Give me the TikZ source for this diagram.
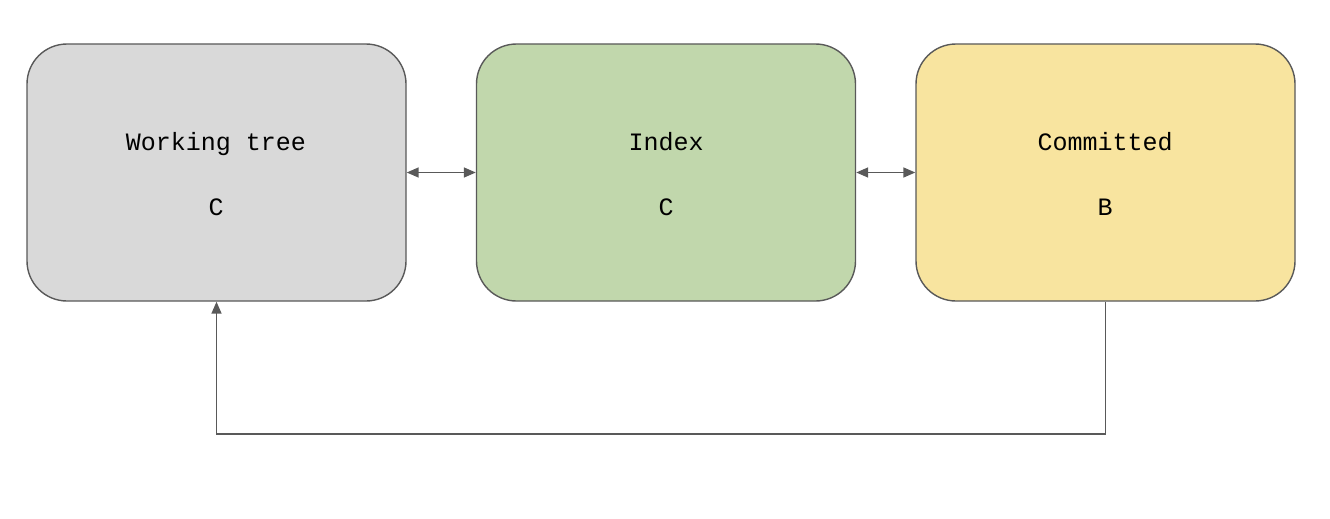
\documentclass[tikz,border=0pt]{standalone}
\usepackage{fontspec}
\setmonofont{Liberation Mono}
\usetikzlibrary{arrows.meta}
\definecolor{bordergray}{HTML}{595959}
\definecolor{wtfill}{HTML}{D9D9D9}
\definecolor{idxfill}{HTML}{C1D7AC}
\definecolor{comfill}{HTML}{F8E49F}
\tikzset{
  stage/.style={draw=bordergray, line width=1.4pt, rounded corners=40pt,
    minimum width=379pt, minimum height=257pt, inner sep=0pt},
  lbl/.style={font=\ttfamily\fontsize{25}{29}\selectfont, text=black, anchor=base, inner sep=0pt},
  conn/.style={draw=bordergray, line width=1.5pt},
  tip/.style={-{Triangle[length=12pt,width=10pt]}},
  dtip/.style={{Triangle[length=12pt,width=10pt]}-{Triangle[length=12pt,width=10pt]}},
}
\begin{document}
\begin{tikzpicture}[x=1pt,y=-1pt]
\useasboundingbox (0,0) rectangle (1330,519);
\node[stage, fill=wtfill] (wt) at (216.5,172.5) {};
\node[stage, fill=idxfill] (idx) at (666,172.5) {};
\node[stage, fill=comfill] (com) at (1105.5,172.5) {};
\node[lbl] (wt1) at (216,150) {Working tree};
\node[lbl] (wt2) at (216,215.5) {C};
\node[lbl] (idx1) at (666,150) {Index};
\node[lbl] (idx2) at (666,215.5) {C};
\node[lbl] (com1) at (1105,150) {Committed};
\node[lbl] (com2) at (1105,215.5) {B};
\draw[conn, dtip] (wt.east) -- (idx.west);
\draw[conn, dtip] (idx.east) -- (com.west);
\coordinate (br) at (1105.5,434);
\coordinate (bl) at (216.5,434);
\draw[conn, tip] (com.south) -- (br) -- (bl) -- (wt.south);
\end{tikzpicture}
\end{document}
